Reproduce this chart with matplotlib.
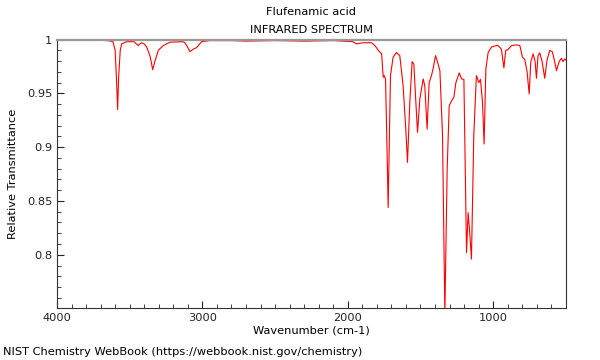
import matplotlib
matplotlib.use("Agg")
import matplotlib.pyplot as plt
from matplotlib.ticker import MultipleLocator, FuncFormatter

# wavenumber (cm-1) and relative transmittance
wavenumber = [4000, 3800, 3650, 3615, 3600, 3590, 3583, 3576, 3565, 3555,
              3520, 3470, 3455, 3441, 3430, 3418, 3400, 3383, 3361, 3350,
              3342, 3326, 3303, 3269, 3223, 3134, 3120, 3108, 3085, 3063,
              3040, 3005, 2950, 2800, 2700, 2500, 2300, 2100, 1965, 1939,
              1896, 1836, 1813, 1790, 1767, 1756, 1749, 1740, 1730, 1722,
              1715, 1706, 1688, 1665, 1642, 1619, 1600, 1589, 1573, 1557,
              1545, 1534, 1520, 1504, 1493, 1481, 1470, 1454, 1440, 1424,
              1413, 1396, 1382, 1366, 1348, 1332, 1316, 1302, 1286, 1270,
              1256, 1233, 1217, 1201, 1183, 1172, 1160, 1149, 1133, 1115,
              1098, 1087, 1073, 1062, 1050, 1034, 1011, 977, 966, 943,
              926, 913, 897, 874, 840, 816, 798, 782, 766, 752,
              741, 725, 711, 702, 691, 679, 663, 645, 629, 610,
              592, 576, 564, 546, 530, 519, 507, 500]
transmittance = [0.9995, 0.9995, 0.999, 0.998, 0.990, 0.960, 0.935, 0.965, 0.990, 0.996,
                 0.998, 0.998, 0.996, 0.9944, 0.996, 0.997, 0.996, 0.993, 0.985, 0.978,
                 0.972, 0.980, 0.990, 0.9944, 0.9975, 0.998, 0.997, 0.9944, 0.9888, 0.991,
                 0.9925, 0.998, 0.999, 0.999, 0.9985, 0.999, 0.9985, 0.999, 0.998, 0.996,
                 0.997, 0.997, 0.9944, 0.990, 0.9867, 0.965, 0.9665, 0.963, 0.900, 0.844,
                 0.900, 0.9665, 0.9835, 0.988, 0.985, 0.957, 0.915, 0.8858, 0.9417, 0.9795,
                 0.977, 0.948, 0.9137, 0.9448, 0.954, 0.9634, 0.957, 0.9168, 0.960, 0.9665,
                 0.9727, 0.985, 0.979, 0.971, 0.911, 0.745, 0.880, 0.9385, 0.943, 0.9463,
                 0.960, 0.969, 0.9634, 0.963, 0.802, 0.839, 0.819, 0.796, 0.9106, 0.9665,
                 0.960, 0.963, 0.9417, 0.9029, 0.9727, 0.988, 0.993, 0.9944, 0.9944, 0.991,
                 0.9736, 0.990, 0.9906, 0.9944, 0.995, 0.9944, 0.9835, 0.9814, 0.9696, 0.9494,
                 0.979, 0.9867, 0.9795, 0.964, 0.985, 0.9876, 0.9795, 0.964, 0.981, 0.990,
                 0.9885, 0.979, 0.971, 0.9795, 0.9826, 0.9795, 0.982, 0.981]

fig = plt.figure(figsize=(6, 3.6), dpi=100)
ax = fig.add_axes([0.095, 0.1444, 0.848, 0.7458])

ax.plot(wavenumber, transmittance, color="red", linewidth=0.8)

ax.set_xlim(4000, 500)
ax.set_ylim(0.7505, 1.0)

ax.xaxis.set_major_locator(MultipleLocator(1000))
ax.xaxis.set_minor_locator(MultipleLocator(100))
ax.yaxis.set_major_locator(MultipleLocator(0.05))
ax.yaxis.set_minor_locator(MultipleLocator(0.01))
ax.yaxis.set_major_formatter(FuncFormatter(lambda v, p: "%g" % round(v, 3)))

fs = 8.2
ax.tick_params(which="both", direction="in", labelsize=fs, colors="#222222")
ax.tick_params(which="major", length=5)
ax.tick_params(which="minor", length=3)

for s in ["left", "bottom", "right"]:
    ax.spines[s].set_color("#333333")
ax.spines["top"].set_color("#999999")
ax.spines["top"].set_linewidth(1.6)

ax.set_xlabel("Wavenumber (cm-1)", fontsize=fs, labelpad=2)
ax.set_ylabel("Relative Transmittance", fontsize=fs, labelpad=6)

fig.text(0.519, 0.966, "Flufenamic acid", ha="center", va="center", fontsize=fs)
fig.text(0.519, 0.916, "INFRARED SPECTRUM", ha="center", va="center", fontsize=fs)
fig.text(0.005, 0.022, "NIST Chemistry WebBook (https://webbook.nist.gov/chemistry)",
         ha="left", va="center", fontsize=fs)

fig.savefig("out.png", dpi=100)
